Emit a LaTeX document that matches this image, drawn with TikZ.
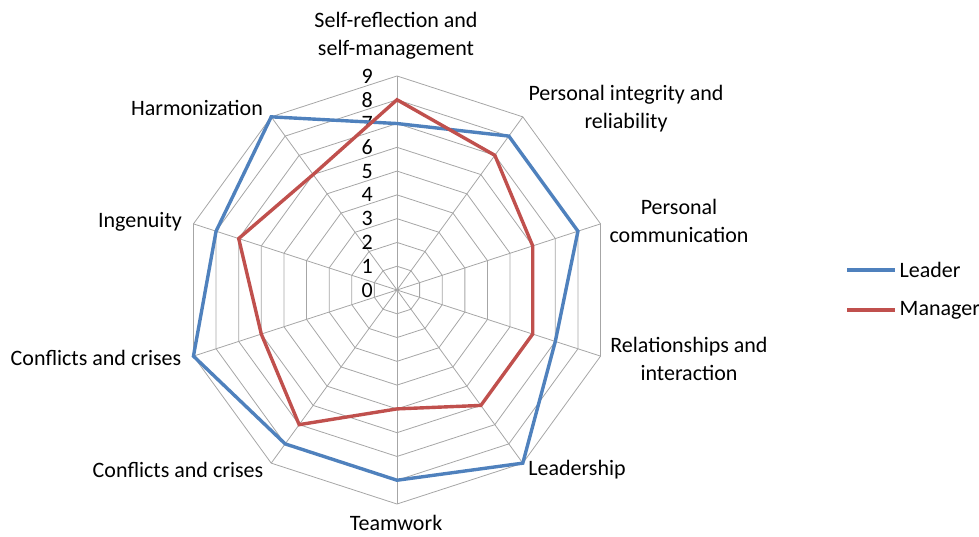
\documentclass[tikz,border=0pt]{standalone}
\usepackage{fontspec}
\setmainfont{Carlito}
\tikzset{
  gridline/.style={draw=gray!70, line width=0.8pt},
  leaderline/.style={draw={rgb,255:red,79;green,129;blue,189}, line width=3.4pt},
  managerline/.style={draw={rgb,255:red,192;green,80;blue,77}, line width=3.4pt},
  axislabel/.style={font=\fontsize{22}{28}\selectfont, align=center, inner sep=0pt},
  ticklabel/.style={font=\fontsize{22}{24}\selectfont, anchor=east, inner sep=0pt}
}
\begin{document}
\begin{tikzpicture}[x=1pt, y=1pt]
  \useasboundingbox (0,0) rectangle (979,537);
  \def\u{23.78}
  \begin{scope}[shift={(397,247)}]
    % rings and spokes
    \foreach \r in {1,...,9}
      \draw[gridline] (90:\r*\u) \foreach \i in {1,...,9} { -- (90-36*\i:\r*\u) } -- cycle;
    \foreach \i in {0,...,9}
      \draw[gridline] (0,0) -- (90-36*\i:9*\u);
    % scale
    \foreach \r in {0,...,9}
      \node[ticklabel] (t\r) at (-24,\r*\u) {\r};
    % data
    \foreach \v [count=\i from 0] in {7,8,8,7,9,8,8,9,8,9}
      \coordinate (L\i) at (90-36*\i:\v*\u);
    \foreach \v [count=\i from 0] in {8,7,6,6,6,5,7,6,7,6}
      \coordinate (M\i) at (90-36*\i:\v*\u);
    \draw[leaderline] (L0) -- (L1) -- (L2) -- (L3) -- (L4) -- (L5) -- (L6) -- (L7) -- (L8) -- (L9) -- cycle;
    \draw[managerline] (M0) -- (M1) -- (M2) -- (M3) -- (M4) -- (M5) -- (M6) -- (M7) -- (M8) -- (M9) -- cycle;
  \end{scope}
  % axis labels
  \node[axislabel] (selfref) at (396,501) {Self-reflection and\\self-management};
  \node[axislabel] (integrity) at (626,428) {Personal integrity and\\reliability};
  \node[axislabel] (communication) at (679,316) {Personal\\communication};
  \node[axislabel] (relations) at (689,178) {Relationships and\\interaction};
  \node[axislabel] (leadership) at (577,67) {Leadership};
  \node[axislabel] (teamwork) at (396,14) {Teamwork};
  \node[axislabel] (conflictsA) at (178,67) {Conflicts and crises};
  \node[axislabel] (conflictsB) at (96,179) {Conflicts and crises};
  \node[axislabel] (ingenuity) at (140,315) {Ingenuity};
  \node[axislabel] (harmonization) at (197,429) {Harmonization};
  % legend
  \coordinate (legL) at (847,267);
  \coordinate (legM) at (847,227);
  \draw[leaderline] (legL) -- ++(48,0) node[axislabel, anchor=west, xshift=3pt] (leader) {Leader};
  \draw[managerline] (legM) -- ++(48,0) node[axislabel, anchor=west, xshift=3pt] (manager) {Manager};
\end{tikzpicture}
\end{document}
